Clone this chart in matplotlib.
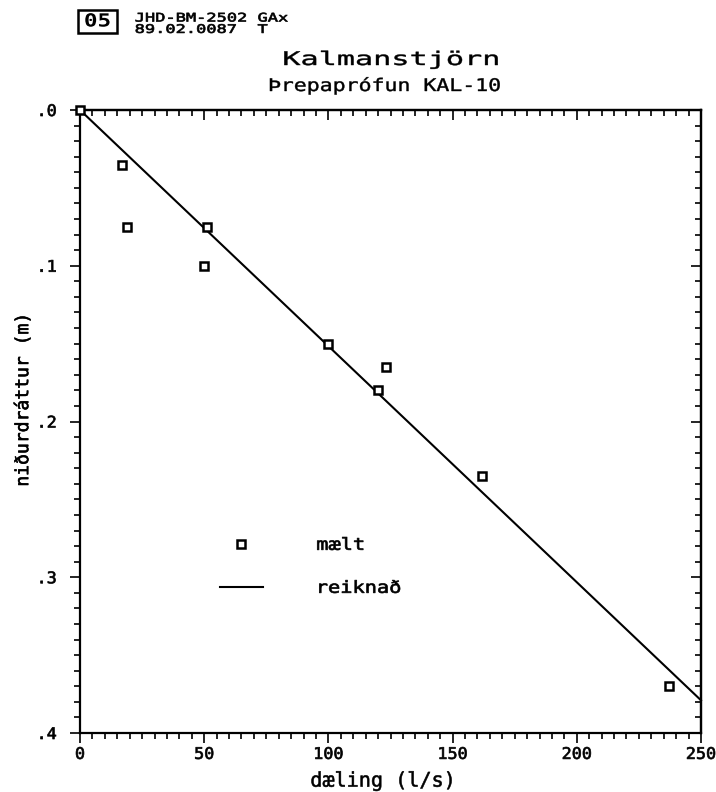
import matplotlib
matplotlib.use("Agg")
import matplotlib.pyplot as plt
from matplotlib import patheffects
from matplotlib.transforms import Affine2D
from matplotlib.ticker import MultipleLocator, FixedLocator, FixedFormatter
from matplotlib.patches import Rectangle

# mæligögn: dæling (l/s) og niðurdráttur (m)
daeling = [0, 17, 19, 51, 50, 100, 123, 120, 162, 237]
nidurdrattur = [0.0, 0.035, 0.075, 0.075, 0.100, 0.150, 0.165, 0.180, 0.235, 0.370]

# reiknuð lína
reikn_x = [0, 250]
reikn_y = [0.0, 0.379]

x_ticks = [0, 50, 100, 150, 200, 250]
y_ticks = [0.0, 0.1, 0.2, 0.3, 0.4]
y_labels = [".0", ".1", ".2", ".3", ".4"]


class Stretch(patheffects.AbstractPathEffect):
    """Teygir texta lárétt (plotter-letrið er breitt)."""

    def __init__(self, sx, anchor="center", lw=0.0):
        super().__init__()
        self.sx = sx
        self.anchor = anchor
        self.lw = lw

    def draw_path(self, renderer, gc, tpath, affine, rgbFace=None):
        ext = tpath.get_extents(affine)
        cx = ext.x0 if self.anchor == "left" else 0.5 * (ext.x0 + ext.x1)
        aff = affine + Affine2D().translate(-cx, 0).scale(self.sx, 1).translate(cx, 0)
        gc0 = renderer.new_gc()
        gc0.copy_properties(gc)
        if self.lw > 0:
            gc0.set_linewidth(self.lw)
            gc0.set_foreground(rgbFace)
        renderer.draw_path(gc0, tpath, aff, rgbFace)
        gc0.restore()


plt.rcParams['font.family'] = ['DejaVu Sans Mono', 'DejaVu Sans']

fig = plt.figure(figsize=(7.16, 7.92), dpi=100)
ax = fig.add_axes([80 / 716, 1 - 733 / 792, 621 / 716, 623 / 792])

ax.plot(reikn_x, reikn_y, color="black", lw=1.5, label="reiknað", clip_on=False)
ax.plot(daeling, nidurdrattur, ls="none", marker="s", ms=6, mfc="white",
        mec="black", mew=1.8, label="mælt", clip_on=False, zorder=5)

ax.set_xlim(0, 250)
ax.set_ylim(0.4, 0.0)
ax.xaxis.set_major_locator(FixedLocator(x_ticks))
ax.xaxis.set_minor_locator(MultipleLocator(5))
ax.yaxis.set_major_locator(FixedLocator(y_ticks))
ax.yaxis.set_major_formatter(FixedFormatter(y_labels))
ax.yaxis.set_minor_locator(MultipleLocator(0.01))

for s in ax.spines.values():
    s.set_linewidth(1.6)

ax.tick_params(which="both", direction="out", width=1.2, labelsize=11.5)
ax.tick_params(which="major", length=7)
ax.tick_params(which="minor", length=4.5)
ax.tick_params(axis="x", pad=3)
ax.tick_params(axis="y", pad=10)
for lab in ax.get_xticklabels() + ax.get_yticklabels():
    lab.set_path_effects([Stretch(1.05, lw=0.5)])

# efri og hægri ás: ticks inn á við
top = ax.secondary_xaxis("top")
top.xaxis.set_major_locator(FixedLocator(x_ticks))
top.xaxis.set_minor_locator(MultipleLocator(5))
top.tick_params(which="both", direction="in", width=1.2, labeltop=False)
top.tick_params(which="major", length=7)
top.tick_params(which="minor", length=4.5)
top.spines["top"].set_linewidth(1.6)

right = ax.secondary_yaxis("right")
right.yaxis.set_major_locator(FixedLocator(y_ticks))
right.yaxis.set_minor_locator(MultipleLocator(0.01))
right.tick_params(which="both", direction="in", width=1.2, labelright=False)
right.tick_params(which="major", length=7)
right.tick_params(which="minor", length=4.5)
right.spines["right"].set_linewidth(1.6)

xl = ax.set_xlabel("dæling (l/s)", fontsize=14.5)
ax.xaxis.set_label_coords(0.488, -0.062)
yl = ax.set_ylabel("niðurdráttur (m)", fontsize=13)
ax.yaxis.set_label_coords(-0.077, 0.535)
xl.set_path_effects([Stretch(1.0, lw=0.4)])
yl.set_path_effects([patheffects.withStroke(linewidth=0.4, foreground="black")])

handles, labels = ax.get_legend_handles_labels()
leg = ax.legend(handles[::-1], labels[::-1], loc="upper left",
                bbox_to_anchor=(0.225, 0.3165), frameon=False, fontsize=12,
                handlelength=2.6, handletextpad=3.2, labelspacing=1.5,
                borderpad=0, borderaxespad=0)
for t in leg.get_texts():
    t.set_path_effects([Stretch(1.22, anchor="left", lw=0.5)])

# titlar
fig.text(391 / 716, 1 - 65 / 792, "Kalmanstjörn", fontsize=13.5,
         ha="center", va="baseline", path_effects=[Stretch(1.61, lw=0.3)])
fig.text(385 / 716, 1 - 91 / 792, "Þrepaprófun KAL-10", fontsize=12.5,
         ha="center", va="baseline", path_effects=[Stretch(1.24, lw=0.3)])

# haus (tvær línur í einum texta)
fig.text(135 / 716, 1 - 11.5 / 792, "JHD-BM-2502 GAx\n89.02.0087  T",
         fontsize=8.5, linespacing=0.84, ha="left", va="top",
         path_effects=[Stretch(1.44, "left", 0.5)])
fig.patches.append(Rectangle((78 / 716, 1 - 33 / 792), 39 / 716, 23 / 792,
                             transform=fig.transFigure, fill=False,
                             lw=1.8, ec="black"))
fig.text(97.5 / 716, 1 - 21.5 / 792, "05", fontsize=13, fontweight="bold",
         ha="center", va="center", path_effects=[Stretch(1.25)])

fig.savefig("out.png", dpi=100)
